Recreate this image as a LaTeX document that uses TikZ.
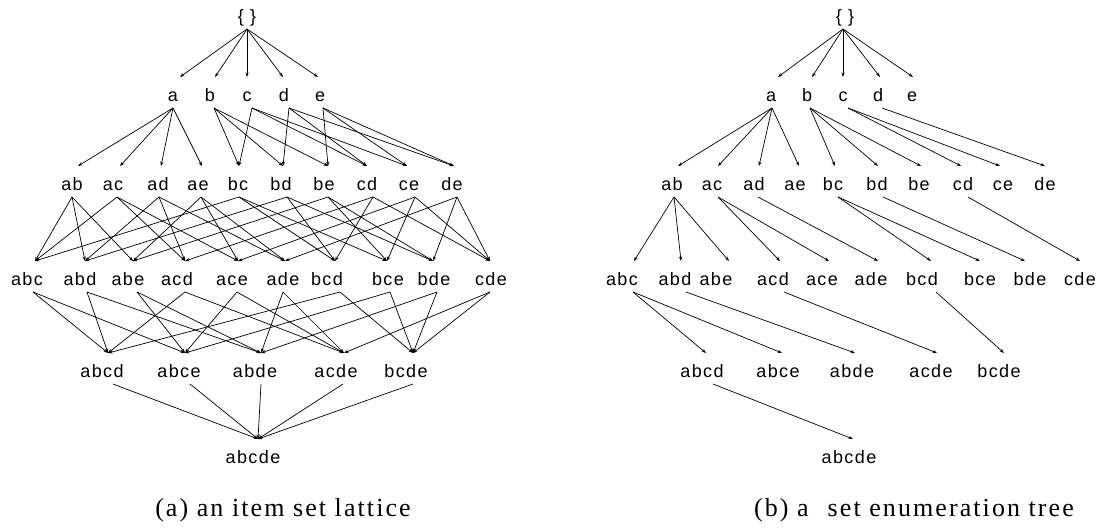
\documentclass[tikz,border=0pt]{standalone}
\usepackage{fontspec}
\usetikzlibrary{arrows.meta}
\newfontfamily\labfont[LetterSpace=8]{Liberation Sans}
\newfontfamily\capfont[LetterSpace=8]{Liberation Serif}
% node: name, x, baseline y, text, in-dx, out-dx
\newcommand\N[6]{%
  \node[lab] (#1) at (#2,#3) {#4};
  \expandafter\gdef\csname dxi@#1\endcsname{#5}%
  \expandafter\gdef\csname dxo@#1\endcsname{#6}}
\newcommand\E[2]{%
  \draw[arr] ([xshift=\csname dxo@#1\endcsname pt,yshift=-7pt]#1.base) --
             ([xshift=\csname dxi@#2\endcsname pt,yshift=24pt]#2.base);}
\begin{document}
\begin{tikzpicture}[x=1pt,y=-1pt,
  lab/.style={anchor=base,inner sep=0pt,font=\labfont\fontsize{18}{21}\selectfont},
  arr/.style={line width=0.7pt,-{Stealth[length=4.5pt,width=3.2pt]}},
  captxt/.style={anchor=base,inner sep=0pt,font=\capfont\fontsize{26}{30}\selectfont}]
\useasboundingbox (0,0) rectangle (1115,528);
% ---------- (a) lattice ----------
\N{root}{247}{22}{\{\hspace{0.35em}\}}{0}{0}
\N{a}{173}{101}{a}{7}{0}
\N{b}{210}{101}{b}{5}{4}
\N{c}{247}{101}{c}{0}{5}
\N{d}{284}{101}{d}{-1}{5}
\N{e}{320}{101}{e}{-2}{3}
\N{ab}{72}{190}{ab}{6}{0}
\N{ac}{113}{190}{ac}{7}{4}
\N{ad}{158}{190}{ad}{3}{1}
\N{ae}{198}{190}{ae}{4}{3}
\N{bc}{238}{190}{bc}{1}{1}
\N{bd}{281}{190}{bd}{2}{6}
\N{be}{324}{190}{be}{4}{4}
\N{cd}{367}{190}{cd}{0}{6}
\N{ce}{409}{190}{ce}{-2}{6}
\N{de}{452}{190}{de}{2}{5}
\N{abc}{27}{285}{abc}{8}{6}
\N{abd}{80}{285}{abd}{5}{7}
\N{abe}{128}{285}{abe}{5}{9}
\N{acd}{177}{285}{acd}{8}{8}
\N{ace}{232}{285}{ace}{6}{5}
\N{ade}{283}{285}{ade}{2}{0}
\N{bcd}{327}{285}{bcd}{8}{13}
\N{bce}{388}{285}{bce}{-1}{2}
\N{bde}{434}{285}{bde}{-1}{3}
\N{cde}{491}{285}{cde}{-1}{-1}
\N{abcd}{102}{377}{abcd}{6}{11}
\N{abce}{179}{377}{abce}{6}{11}
\N{abde}{255}{377}{abde}{6}{6}
\N{acde}{336}{377}{acde}{8}{7}
\N{bcde}{406}{377}{bcde}{7}{7}
\N{abcde}{253}{463}{abcde}{5}{0}
\foreach \p/\c in {root/a,root/b,root/c,root/d,root/e,
  a/ab,a/ac,a/ad,a/ae,b/bc,b/bd,b/be,c/bc,c/cd,c/ce,d/bd,d/cd,d/de,e/be,e/ce,e/de,
  ab/abc,ab/abd,ab/abe,ac/abc,ac/acd,ac/ace,ad/abd,ad/acd,ad/ade,ae/abe,ae/ace,ae/ade,
  bc/abc,bc/bcd,bc/bce,bd/abd,bd/bcd,bd/bde,be/abe,be/bce,be/bde,
  cd/acd,cd/bcd,cd/cde,ce/ace,ce/bce,ce/cde,de/ade,de/bde,de/cde,
  abc/abcd,abc/abce,abd/abcd,abd/abde,abe/abce,abe/abde,acd/abcd,acd/acde,
  ace/abce,ace/acde,ade/abde,ade/acde,bcd/abcd,bcd/bcde,bce/abce,bce/bcde,
  bde/abde,bde/bcde,cde/acde,cde/bcde,
  abcd/abcde,abce/abcde,abde/abcde,acde/abcde,bcde/abcde}{\E{\p}{\c}}
\node[captxt] (capa) at (283,516) {(a) an item set lattice};
% ---------- (b) set enumeration tree ----------
\N{rroot}{845}{22}{\{\hspace{0.35em}\}}{0}{-2}
\N{ra}{771}{101}{a}{7}{1}
\N{rb}{807}{101}{b}{5}{3}
\N{rc}{843}{101}{c}{0}{5}
\N{rd}{878}{101}{d}{2}{4}
\N{re}{912}{101}{e}{1}{0}
\N{rab}{672}{190}{ab}{6}{2}
\N{rac}{712}{190}{ac}{6}{6}
\N{rad}{754}{190}{ad}{5}{4}
\N{rae}{795}{190}{ae}{4}{0}
\N{rbc}{833}{190}{bc}{2}{5}
\N{rbd}{877}{190}{bd}{1}{6}
\N{rbe}{919}{190}{be}{2}{0}
\N{rcd}{963}{190}{cd}{-2}{5}
\N{rce}{1003}{190}{ce}{-3}{0}
\N{rde}{1045}{190}{de}{0}{0}
\N{rabc}{622}{285}{abc}{12}{11}
\N{rabd}{675}{285}{abd}{6}{11}
\N{rabe}{716}{285}{abe}{13}{0}
\N{racd}{773}{285}{acd}{7}{11}
\N{race}{822}{285}{ace}{7}{0}
\N{rade}{871}{285}{ade}{7}{0}
\N{rbcd}{922}{285}{bcd}{9}{14}
\N{rbce}{980}{285}{bce}{0}{0}
\N{rbde}{1030}{285}{bde}{-5}{0}
\N{rcde}{1080}{285}{cde}{0}{0}
\N{rabcd}{702}{377}{abcd}{4}{11}
\N{rabce}{778}{377}{abce}{4}{0}
\N{rabde}{852}{377}{abde}{3}{0}
\N{racde}{931}{377}{acde}{6}{0}
\N{rbcde}{999}{377}{bcde}{5}{0}
\N{rabcde}{849}{463}{abcde}{4}{0}
\foreach \p/\c in {rroot/ra,rroot/rb,rroot/rc,rroot/rd,rroot/re,
  ra/rab,ra/rac,ra/rad,ra/rae,rb/rbc,rb/rbd,rb/rbe,rc/rcd,rc/rce,rd/rde,
  rab/rabc,rab/rabd,rab/rabe,rac/racd,rac/race,rad/rade,rbc/rbcd,rbc/rbce,
  rbd/rbde,rcd/rcde,rabc/rabcd,rabc/rabce,rabd/rabde,racd/racde,rbcd/rbcde,
  rabcd/rabcde}{\E{\p}{\c}}
\node[captxt] (capb) at (914,516) {(b) a\hspace{0.4em} set enumeration tree};
\end{tikzpicture}
\end{document}
